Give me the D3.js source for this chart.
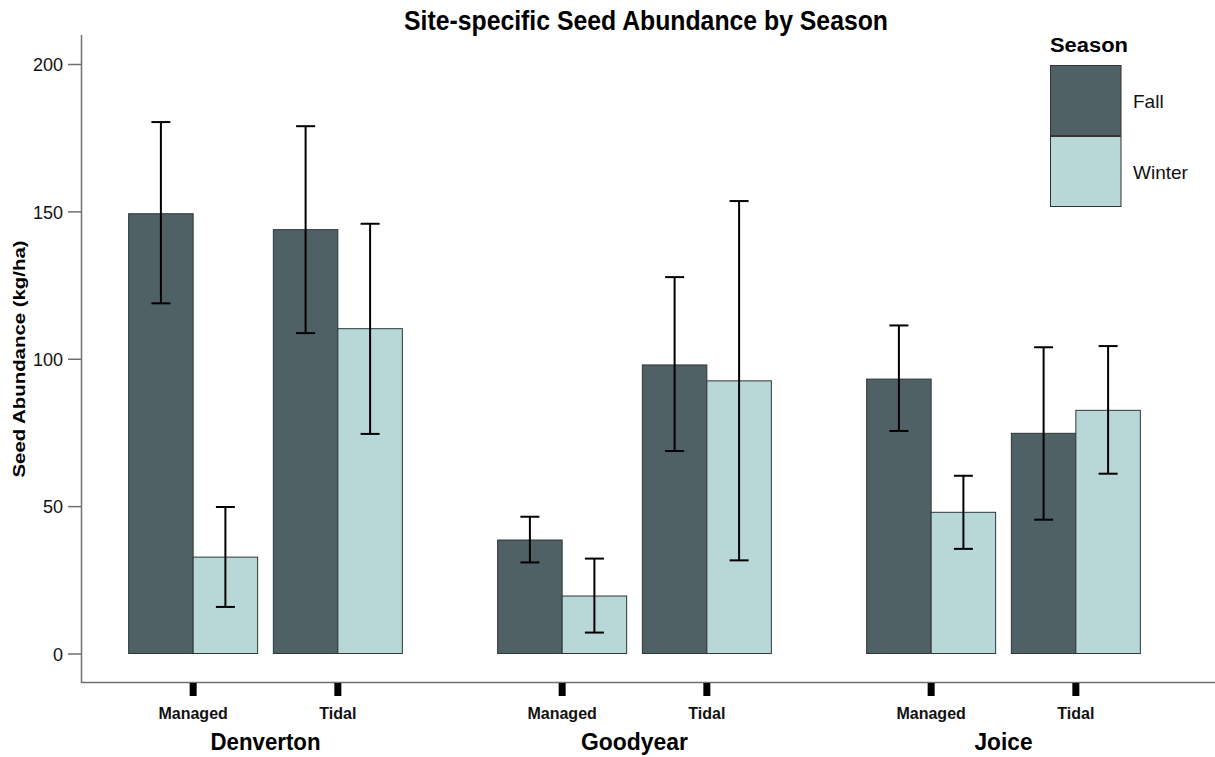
<!DOCTYPE html>
<html>
<head>
<meta charset="utf-8">
<script src="https://cdn.jsdelivr.net/npm/d3@7"></script>
<style>
  html, body { margin: 0; padding: 0; background: #fff; }
  svg { display: block; }
</style>
</head>
<body>
<svg id="chart" width="1215" height="757"></svg>
<script>
// ---- Data ----
const sites = ["Denverton", "Goodyear", "Joice"];
const types = ["Managed", "Tidal"];
const seasons = ["Fall", "Winter"];
const yTicks = [0, 50, 100, 150, 200];

// order: Denverton-Managed, Denverton-Tidal, Goodyear-Managed, Goodyear-Tidal, Joice-Managed, Joice-Tidal
const fallMean  = [149.2, 143.8, 38.5, 97.9, 93.1, 74.7];
const fallLow   = [118.8, 108.7, 30.9, 68.7, 75.5, 45.4];
const fallHigh  = [180.3, 178.9, 46.4, 127.7, 111.3, 103.9];
const winterMean = [32.7, 110.2, 19.5, 92.5, 47.9, 82.5];
const winterLow  = [15.8, 74.5, 7.1, 31.6, 35.5, 61.0];
const winterHigh = [49.7, 145.8, 32.2, 153.5, 60.3, 104.3];

const colors = { Fall: "#4f6165", Winter: "#b8d8d8" };

// ---- Build records ----
const records = [];
sites.forEach((s, si) => {
  types.forEach((t, ti) => {
    const i = si * 2 + ti;
    records.push({ site: s, type: t, season: "Fall", mean: fallMean[i], low: fallLow[i], high: fallHigh[i] });
    records.push({ site: s, type: t, season: "Winter", mean: winterMean[i], low: winterLow[i], high: winterHigh[i] });
  });
});

const svg = d3.select("#chart");
const sans = "'Liberation Sans', Arial, Helvetica, sans-serif";
const narrow = "'Liberation Sans Narrow', 'Arial Narrow', 'Liberation Sans', Arial, sans-serif";

// ---- Scales ----
const y = d3.scaleLinear().domain([0, 200]).range([653.5, 64]);
const xSite = d3.scaleBand().domain(sites).range([81, 1188]).padding(0);
const xType = d3.scalePoint().domain(types).range([0, xSite.bandwidth()]).padding(0.775);
const barW = 64.5;
const xSeason = d3.scaleBand().domain(seasons).range([-barW, barW]).padding(0);

const cx = d => xSite(d.site) + xType(d.type);

// ---- Axes lines ----
const axisColor = "#6f6f6f";
svg.append("line").attr("x1", 81.5).attr("x2", 81.5).attr("y1", 35).attr("y2", 683)
  .attr("stroke", axisColor).attr("stroke-width", 1.5);
svg.append("line").attr("x1", 81).attr("x2", 1215).attr("y1", 682.5).attr("y2", 682.5)
  .attr("stroke", axisColor).attr("stroke-width", 1.5);

// Y axis via d3.axisLeft
const yAxis = d3.axisLeft(y).tickValues(yTicks).tickSize(13).tickPadding(5);
const gy = svg.append("g").attr("transform", "translate(81,0)").call(yAxis);
gy.select(".domain").remove();
gy.selectAll(".tick line").attr("stroke", axisColor).attr("stroke-width", 1.5);
gy.selectAll(".tick text").attr("font-family", sans).attr("font-size", 18).attr("fill", "#111")
  .attr("dy", "0.38em");

// ---- Bars ----
svg.append("g").selectAll("rect").data(records).join("rect")
  .attr("x", d => cx(d) + xSeason(d.season))
  .attr("y", d => y(d.mean))
  .attr("width", xSeason.bandwidth())
  .attr("height", d => y(0) - y(d.mean))
  .attr("fill", d => colors[d.season])
  .attr("stroke", "#2e3638")
  .attr("stroke-width", 1);

// ---- Error bars ----
const capHalf = 9.5;
const eg = svg.append("g").attr("stroke", "#000").attr("stroke-width", 2);
records.forEach(d => {
  const xc = cx(d) + xSeason(d.season) + xSeason.bandwidth() / 2;
  eg.append("line").attr("x1", xc).attr("x2", xc).attr("y1", y(d.high)).attr("y2", y(d.low));
  eg.append("line").attr("x1", xc - capHalf).attr("x2", xc + capHalf).attr("y1", y(d.high)).attr("y2", y(d.high));
  eg.append("line").attr("x1", xc - capHalf).attr("x2", xc + capHalf).attr("y1", y(d.low)).attr("y2", y(d.low));
});

// ---- Bottom ticks and labels ----
const combos = [];
sites.forEach(s => types.forEach(t => combos.push({ site: s, type: t })));
svg.append("g").selectAll("rect").data(combos).join("rect")
  .attr("x", d => cx(d) - 3.5)
  .attr("y", 683)
  .attr("width", 7)
  .attr("height", 13)
  .attr("fill", "#000");
svg.append("g").selectAll("text").data(combos).join("text")
  .attr("x", d => cx(d))
  .attr("y", 718.5)
  .attr("text-anchor", "middle")
  .attr("font-family", sans)
  .attr("font-weight", "bold")
  .attr("font-size", 16)
  .attr("fill", "#111")
  .text(d => d.type);

const siteWidths = { Denverton: 110, Goodyear: 107, Joice: 58 };
svg.append("g").selectAll("text").data(sites).join("text")
  .attr("x", d => xSite(d) + xSite.bandwidth() / 2)
  .attr("y", 749.5)
  .attr("text-anchor", "middle")
  .attr("font-family", narrow)
  .attr("font-weight", "bold")
  .attr("font-size", 24)
  .attr("fill", "#000")
  .attr("textLength", d => siteWidths[d])
  .attr("lengthAdjust", "spacingAndGlyphs")
  .text(d => d);

// ---- Title ----
svg.append("text")
  .attr("x", 646).attr("y", 30)
  .attr("text-anchor", "middle")
  .attr("font-family", narrow)
  .attr("font-weight", "bold")
  .attr("font-size", 27)
  .attr("fill", "#000")
  .attr("textLength", 484)
  .attr("lengthAdjust", "spacingAndGlyphs")
  .text("Site-specific Seed Abundance by Season");

// ---- Y label ----
svg.append("text")
  .attr("transform", "translate(25,359) rotate(-90)")
  .attr("text-anchor", "middle")
  .attr("font-family", sans)
  .attr("font-weight", "bold")
  .attr("font-size", 17)
  .attr("fill", "#000")
  .attr("textLength", 237)
  .attr("lengthAdjust", "spacingAndGlyphs")
  .text("Seed Abundance (kg/ha)");

// ---- Legend ----
const lg = svg.append("g");
lg.append("text").attr("x", 1050).attr("y", 51.5)
  .attr("font-family", sans).attr("font-weight", "bold").attr("font-size", 20)
  .attr("fill", "#000").attr("textLength", 78).attr("lengthAdjust", "spacingAndGlyphs")
  .text("Season");
const ly = d3.scaleBand().domain(seasons).range([65, 207]).padding(0);
lg.selectAll("rect").data(seasons).join("rect")
  .attr("x", 1050.5).attr("y", d => ly(d) + 0.5)
  .attr("width", 70.5).attr("height", ly.bandwidth() - 1)
  .attr("fill", d => colors[d])
  .attr("stroke", "#333").attr("stroke-width", 1);
lg.selectAll("text.lab").data(seasons).join("text").attr("class", "lab")
  .attr("x", 1133).attr("y", d => ly(d) + ly.bandwidth() / 2 + 7)
  .attr("font-family", sans).attr("font-size", 19).attr("fill", "#111")
  .text(d => d);
</script>
</body>
</html>
